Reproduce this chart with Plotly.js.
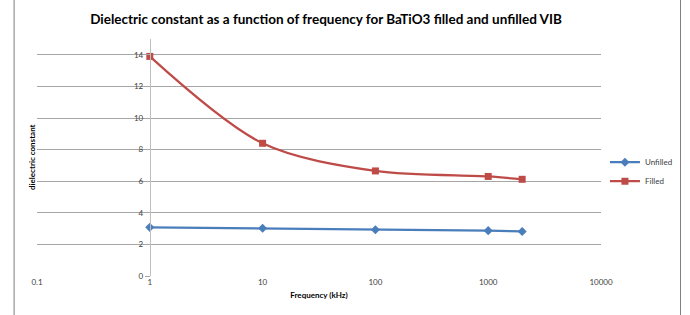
<!DOCTYPE html>
<html><head><meta charset="utf-8">
<script src="https://cdn.plot.ly/plotly-3.0.1.min.js"></script>
<style>html,body{margin:0;padding:0;background:#fff;}#chart{width:690px;height:315px;}</style>
</head><body><div id="chart"></div>
<script>
const frequency = [1, 10, 100, 1000, 2000];
const unfilled = [3.08, 3.02, 2.93, 2.87, 2.82];
const filled = [13.9, 8.4, 6.65, 6.3, 6.12];
const seriesNames = ["Unfilled", "Filled"];
const xTicks = [0.1, 1, 10, 100, 1000, 10000];
const yTicks = [0, 2, 4, 6, 8, 10, 12, 14];

const FONT = "Lato, 'Open Sans', sans-serif";
const traces = [
  {x: frequency, y: unfilled, name: seriesNames[0], type: "scatter", mode: "lines+markers",
   line: {color: "#4a7ebb", width: 2.25}, marker: {symbol: "diamond", size: 7, color: "#4a7ebb"}},
  {x: frequency, y: filled, name: seriesNames[1], type: "scatter", mode: "lines+markers",
   line: {color: "#be4b48", width: 2.25, shape: "spline", smoothing: 0.9}, marker: {symbol: "square", size: 7, color: "#be4b48"}}
];
const layout = {
  width: 690, height: 315,
  margin: {l: 37, r: 87, t: 39, b: 39},
  paper_bgcolor: "#fff", plot_bgcolor: "#fff",
  font: {family: FONT, color: "#404040"},
  title: {text: "<b>Dielectric constant as a function of frequency for BaTiO3 filled and unfilled VIB</b>",
          font: {family: FONT, size: 13.5, color: "#000"}, x: 0.4725, xanchor: "center", y: 0.955, yanchor: "top", yref: "container"},
  xaxis: {type: "log", range: [-1, 4], tickvals: xTicks, ticktext: xTicks.map(String),
          showgrid: false, zeroline: false, showline: false, ticks: "",
          tickfont: {size: 8, color: "#404040"},
          title: {text: "<b>Frequency (kHz)</b>", font: {size: 8, color: "#000"}, standoff: 6}},
  yaxis: {range: [0, 15], tickvals: yTicks, anchor: "free", position: 0.2,
          showgrid: true, gridcolor: "#a6a6a6", gridwidth: 1, zeroline: false,
          showline: true, linecolor: "#bfbfbf", linewidth: 1.5, ticks: "outside", ticklen: 5, tickcolor: "#a6a6a6",
          tickfont: {size: 8, color: "#404040"}},
  legend: {x: 1.007, xanchor: "left", y: 0.44, yanchor: "middle", font: {size: 8, color: "#404040"},
           bgcolor: "rgba(0,0,0,0)", itemwidth: 30, tracegroupgap: 0},
  showlegend: true,
  annotations: [{text: "<b>dielectric constant</b>", xref: "paper", yref: "paper", x: -0.0097, xanchor: "center", y: 0.5, yanchor: "middle",
                 textangle: -90, showarrow: false, font: {family: FONT, size: 8, color: "#000"}}],
  shapes: [
    {type: "line", xref: "paper", yref: "paper", x0: -0.0406, x1: -0.0406, y0: -0.2, y1: 1.2, line: {color: "#7f7f7f", width: 1}},
    {type: "line", xref: "paper", yref: "paper", x0: 1.141, x1: 1.141, y0: -0.2, y1: 1.2, line: {color: "#7f7f7f", width: 1}}
  ]
};
Plotly.newPlot("chart", traces, layout, {displayModeBar: false, staticPlot: true});
</script></body></html>
